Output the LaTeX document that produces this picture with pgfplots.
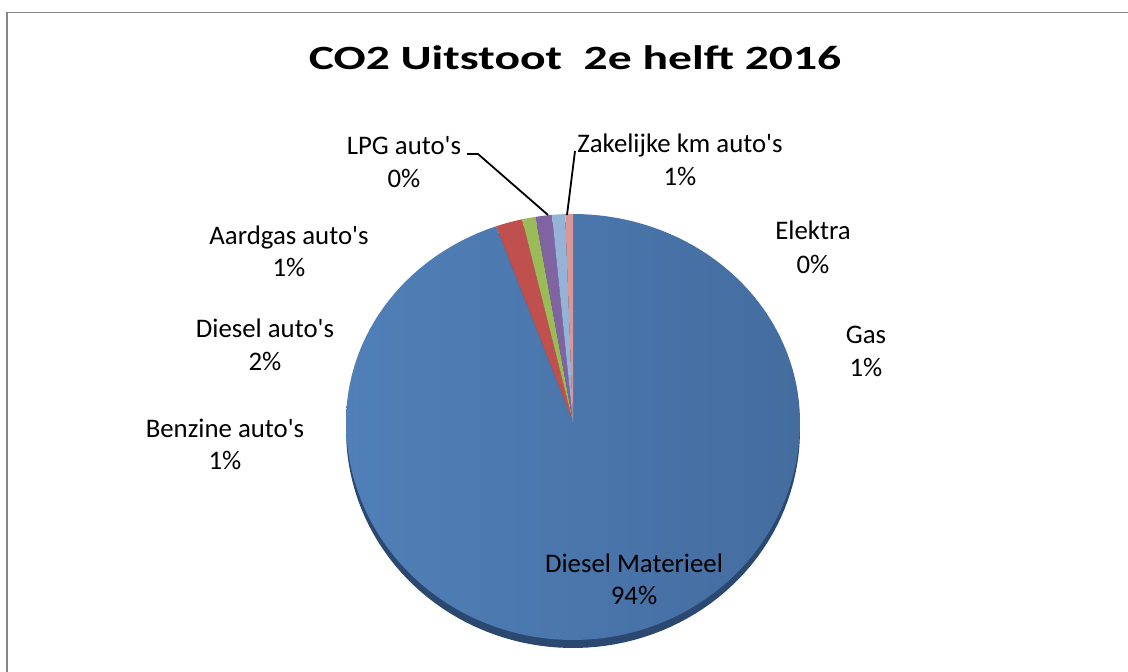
\documentclass[border=0pt]{standalone}
\usepackage{fontspec}
\setmainfont{Carlito}
\usepackage{pgfplots}
\pgfplotsset{compat=1.18}
\usepackage{pgfplotstable}
\definecolor{pieblueL}{HTML}{5080B8}
\definecolor{pieblueR}{HTML}{446C9F}
\definecolor{piered}{HTML}{C0504D}
\definecolor{piegreen}{HTML}{9BBB59}
\definecolor{piepurple}{HTML}{8064A2}
\definecolor{pieaqua}{HTML}{4BACC6}
\definecolor{pielblue}{HTML}{95B3D7}
\definecolor{pieorange}{HTML}{F79646}
\definecolor{piepink}{HTML}{D99694}
\definecolor{rim}{HTML}{2B4870}
\definecolor{framegray}{HTML}{868686}
\newcommand\q{\textquotesingle}
\newcommand\lbl{\fontsize{13.4bp}{16bp}\selectfont}
\pgfplotstableread{
name value
DieselMaterieel 94.5
DieselAutos 1.9
BenzineAutos 0.95
AardgasAutos 1.17
LPGAutos 0
ZakelijkeKm 0.93
Elektra 0
Gas 0.55
}\piedata
\begin{document}%
\begin{tikzpicture}
\pgfplotstablegetelem{0}{value}\of\piedata \let\vA\pgfplotsretval
\pgfplotstablegetelem{1}{value}\of\piedata \let\vB\pgfplotsretval
\pgfplotstablegetelem{2}{value}\of\piedata \let\vC\pgfplotsretval
\pgfplotstablegetelem{3}{value}\of\piedata \let\vD\pgfplotsretval
\pgfplotstablegetelem{4}{value}\of\piedata \let\vE\pgfplotsretval
\pgfplotstablegetelem{5}{value}\of\piedata \let\vF\pgfplotsretval
\pgfplotstablegetelem{6}{value}\of\piedata \let\vG\pgfplotsretval
\pgfplotstablegetelem{7}{value}\of\piedata \let\vH\pgfplotsretval
\pgfmathsetmacro\tot{\vA+\vB+\vC+\vD+\vE+\vF+\vG+\vH}
\pgfmathsetmacro\eA{\vA/\tot*360}
\pgfmathsetmacro\eB{\eA+\vB/\tot*360}
\pgfmathsetmacro\eC{\eB+\vC/\tot*360}
\pgfmathsetmacro\eD{\eC+\vD/\tot*360}
\pgfmathsetmacro\eE{\eD+\vE/\tot*360}
\pgfmathsetmacro\eF{\eE+\vF/\tot*360}
\pgfmathsetmacro\eG{\eF+\vG/\tot*360}
\pgfmathsetmacro\eH{\eG+\vH/\tot*360}
\begin{axis}[width=564bp,height=336bp,scale only axis,
  xmin=0,xmax=1128,ymin=0,ymax=672,y dir=reverse,hide axis,clip=false,
  xtick=\empty,ytick=\empty]
\coordinate (bl) at (axis cs:0,672);
\coordinate (tr) at (axis cs:1128,0);
\fill[white] (axis cs:0,0) rectangle (axis cs:1128,672);
\draw[framegray,line width=0.8bp] (axis cs:7,672) -- (axis cs:7,12.5) -- (axis cs:1128,12.5);
% 3D rim
\addplot[draw=none,fill=rim,domain=0:360,samples=150,variable=\t]
  ({573+227*sin(\t)},{430-cos(\t)*(208*(cos(\t)>=0)+218*(cos(\t)<0))}) -- cycle;
% slices
\addplot[draw=none,left color=pieblueL,right color=pieblueR,domain=0:\eA,samples=150,variable=\t]
  ({573+227*sin(\t)},{422-cos(\t)*(208*(cos(\t)>=0)+218*(cos(\t)<0))}) -- (axis cs:573,422) -- cycle;
\addplot[draw=none,fill=piered,domain=\eA:\eB,samples=10,variable=\t]
  ({573+227*sin(\t)},{422-cos(\t)*(208*(cos(\t)>=0)+218*(cos(\t)<0))}) -- (axis cs:573,422) -- cycle;
\addplot[draw=none,fill=piegreen,domain=\eB:\eC,samples=10,variable=\t]
  ({573+227*sin(\t)},{422-cos(\t)*(208*(cos(\t)>=0)+218*(cos(\t)<0))}) -- (axis cs:573,422) -- cycle;
\addplot[draw=none,fill=piepurple,domain=\eC:\eD,samples=10,variable=\t]
  ({573+227*sin(\t)},{422-cos(\t)*(208*(cos(\t)>=0)+218*(cos(\t)<0))}) -- (axis cs:573,422) -- cycle;
\addplot[draw=none,fill=pielblue,domain=\eE:\eF,samples=10,variable=\t]
  ({573+227*sin(\t)},{422-cos(\t)*(208*(cos(\t)>=0)+218*(cos(\t)<0))}) -- (axis cs:573,422) -- cycle;
\addplot[draw=none,fill=piepink,domain=\eG:\eH,samples=10,variable=\t]
  ({573+227*sin(\t)},{422-cos(\t)*(208*(cos(\t)>=0)+218*(cos(\t)<0))}) -- (axis cs:573,422) -- cycle;
% title
\node[anchor=base] at (axis cs:575,69) {\scalebox{1.4}[1]{\fontsize{17bp}{20bp}\selectfont\bfseries CO2 Uitstoot\ \ 2e helft 2016}};
% labels
\node[anchor=base] at (axis cs:634,572) {\lbl Diesel Materieel};
\node[anchor=base] at (axis cs:634,604) {\lbl 94\%};
\node[anchor=base] at (axis cs:225,437) {\lbl Benzine auto\q s};
\node[anchor=base] at (axis cs:225,469) {\lbl 1\%};
\node[anchor=base] at (axis cs:265,337) {\lbl Diesel auto\q s};
\node[anchor=base] at (axis cs:265,370) {\lbl 2\%};
\node[anchor=base] at (axis cs:289,244) {\lbl Aardgas auto\q s};
\node[anchor=base] at (axis cs:289,276) {\lbl 1\%};
\node[anchor=base] at (axis cs:404,154) {\lbl LPG auto\q s};
\node[anchor=base] at (axis cs:404,187) {\lbl 0\%};
\node[anchor=base] at (axis cs:680,152) {\lbl Zakelijke km auto\q s};
\node[anchor=base] at (axis cs:680,185) {\lbl 1\%};
\node[anchor=base] at (axis cs:813,239) {\lbl Elektra};
\node[anchor=base] at (axis cs:813,273) {\lbl 0\%};
\node[anchor=base] at (axis cs:866,343) {\lbl Gas};
\node[anchor=base] at (axis cs:866,376) {\lbl 1\%};
% leader lines
\draw[black,line width=0.9bp] (axis cs:467,154) -- (axis cs:478,154) -- (axis cs:548,215);
\draw[black,line width=0.9bp] (axis cs:575,151) -- (axis cs:567,215);
\end{axis}
\pgfresetboundingbox
\path[use as bounding box] (bl) rectangle (tr);
\end{tikzpicture}%
\end{document}
